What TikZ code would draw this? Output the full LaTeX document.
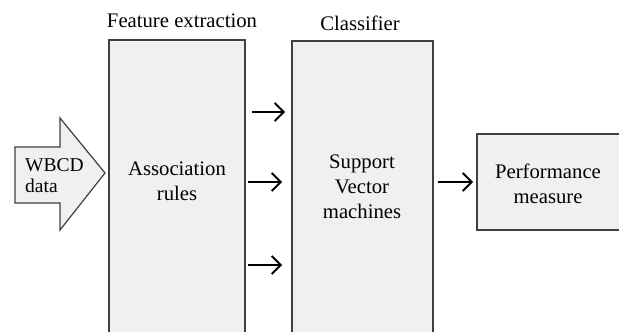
\documentclass[tikz,border=0pt]{standalone}
\usepackage{fontspec}
\setmainfont{Liberation Serif}
\usetikzlibrary{arrows.meta}
\definecolor{boxfill}{HTML}{F0F0F0}
\definecolor{boxline}{HTML}{404040}
\tikzset{
  blockbox/.style={draw=boxline, fill=boxfill, line width=1.6pt},
  lbl/.style={font=\fontsize{20.7}{25}\selectfont, align=center, inner sep=0pt, text=black},
  flow/.style={line width=1.8pt, -{Straight Barb[length=9pt,width=18pt,line width=1.8pt]}}
}
\begin{document}
\begin{tikzpicture}[x=1pt,y=-1pt]
\useasboundingbox (0,0) rectangle (619,332);
\clip (0,0) rectangle (619,332);
\fill[white] (0,0) rectangle (619,332);

% input block arrow
\draw[blockbox, line width=1.2pt] (15,147) -- (60,147) -- (60,118) -- (105,173) -- (60,230) -- (60,203) -- (15,203) -- cycle;
\node[lbl, font=\fontsize{19.5}{21}\selectfont, align=left, anchor=west] (wbcd) at (25,176) {WBCD\\data};

% processing stages
\draw[blockbox] (109,40) rectangle (245,345);
\draw[blockbox] (292,41) rectangle (433,345);
\draw[blockbox] (477,134) rectangle (630,230);

\node[lbl] (fe) at (182,21) {Feature extraction};
\node[lbl] (cl) at (360,23) {Classifier};
\node[lbl] (ar) at (177,181) {Association\\rules};
\node[lbl] (svm) at (362,187) {Support\\Vector\\machines};
\node[lbl] (pm) at (548,184) {Performance\\measure};

% connectors between stages
\coordinate (a1s) at (252,112); \coordinate (a1e) at (285,112);
\coordinate (a2s) at (248,182); \coordinate (a2e) at (282,182);
\coordinate (a3s) at (248,265); \coordinate (a3e) at (282,265);
\coordinate (a4s) at (438,182); \coordinate (a4e) at (473,182);
\draw[flow] (a1s) -- (a1e);
\draw[flow] (a2s) -- (a2e);
\draw[flow] (a3s) -- (a3e);
\draw[flow] (a4s) -- (a4e);
\end{tikzpicture}
\end{document}
